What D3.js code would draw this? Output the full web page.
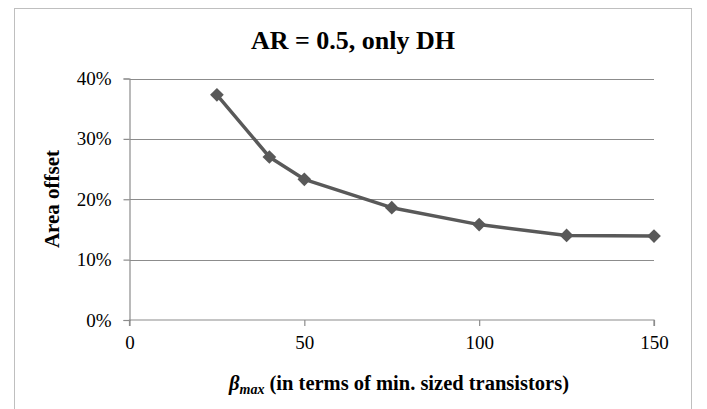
<!DOCTYPE html>
<html>
<head>
<meta charset="utf-8">
<script src="https://cdn.jsdelivr.net/npm/d3@7"></script>
<style>
  body { margin: 0; background: #fff; }
  svg text { font-family: 'Liberation Serif', 'Times New Roman', Times, 'DejaVu Serif', serif !important; }
</style>
</head>
<body>
<div id="chart"></div>
<script>
// values
const betaMax = [25, 40, 50, 75, 100, 125, 150];
const areaOffset = [0.373, 0.270, 0.233, 0.186, 0.158, 0.140, 0.139];
const xTicks = [0, 50, 100, 150];
const yTicks = [0, 0.1, 0.2, 0.3, 0.4];

const width = 707, height = 409;
const plot = { left: 129.5, right: 654, top: 78.5, bottom: 320 };

const svg = d3.select('#chart').append('svg')
  .attr('width', width)
  .attr('height', height);

// outer chart frame
svg.append('rect')
  .attr('x', 14.5).attr('y', 8.5)
  .attr('width', 677).attr('height', 420)
  .attr('fill', 'none')
  .attr('stroke', '#bfbfbf')
  .attr('stroke-width', 1);

const x = d3.scaleLinear().domain([0, 150]).range([plot.left, plot.right]);
const y = d3.scaleLinear().domain([0, 0.4]).range([plot.bottom, plot.top]);

// gridlines
svg.append('g')
  .selectAll('line')
  .data(yTicks.filter(d => d > 0))
  .enter().append('line')
  .attr('x1', plot.left).attr('x2', plot.right)
  .attr('y1', d => Math.round(y(d)) + 0.5)
  .attr('y2', d => Math.round(y(d)) + 0.5)
  .attr('stroke', '#8c8c8c')
  .attr('stroke-width', 1);

const yAxis = svg.append('g')
  .attr('transform', `translate(${plot.left},0)`)
  .call(d3.axisLeft(y).tickValues(yTicks).tickFormat(d3.format('.0%')).tickSize(6).tickPadding(12));

const xAxis = svg.append('g')
  .attr('transform', `translate(0,${plot.bottom})`)
  .call(d3.axisBottom(x).tickValues(xTicks).tickSize(6).tickPadding(10));

[xAxis, yAxis].forEach(g => {
  g.attr('font-family', null);
  g.select('.domain').attr('stroke', '#8c8c8c').attr('stroke-width', 1.2);
  g.selectAll('.tick line').attr('stroke', '#8c8c8c').attr('stroke-width', 1.2);
  g.selectAll('.tick text')
    .attr('fill', '#000')
    .style('font-size', '19px');
});
xAxis.select('.domain').attr('d', `M${plot.left},6V0H${plot.right}V6`);

// series line
const pts = betaMax.map((b, i) => [b, areaOffset[i]]);
svg.append('path')
  .datum(pts)
  .attr('fill', 'none')
  .attr('stroke', '#595959')
  .attr('stroke-width', 3.5)
  .attr('stroke-linejoin', 'round')
  .attr('d', d3.line().x(d => x(d[0])).y(d => y(d[1])));

// diamond markers
svg.append('g')
  .selectAll('path')
  .data(pts)
  .enter().append('path')
  .attr('transform', d => `translate(${x(d[0])},${y(d[1])})`)
  .attr('d', d3.symbol().type(d3.symbolDiamond2).size(120))
  .attr('fill', '#595959');

// title
svg.append('text')
  .attr('x', 353).attr('y', 49)
  .attr('text-anchor', 'middle')
  .style('font-size', '26px')
  .style('font-weight', 'bold')
  .text('AR = 0.5, only DH');

// y axis title
svg.append('text')
  .attr('transform', 'translate(59,199) rotate(-90)')
  .attr('text-anchor', 'middle')
  .style('font-size', '21px')
  .style('font-weight', 'bold')
  .text('Area offset');

// x axis title
const xt = svg.append('text')
  .attr('x', 399).attr('y', 390)
  .attr('text-anchor', 'middle')
  .style('font-size', '20.5px')
  .style('font-weight', 'bold');
xt.append('tspan').style('font-style', 'italic').text('β');
xt.append('tspan').style('font-style', 'italic').style('font-size', '14px').attr('dy', 4).text('max');
xt.append('tspan').attr('dy', -4).text(' (in terms of min. sized transistors)');
</script>
</body>
</html>
